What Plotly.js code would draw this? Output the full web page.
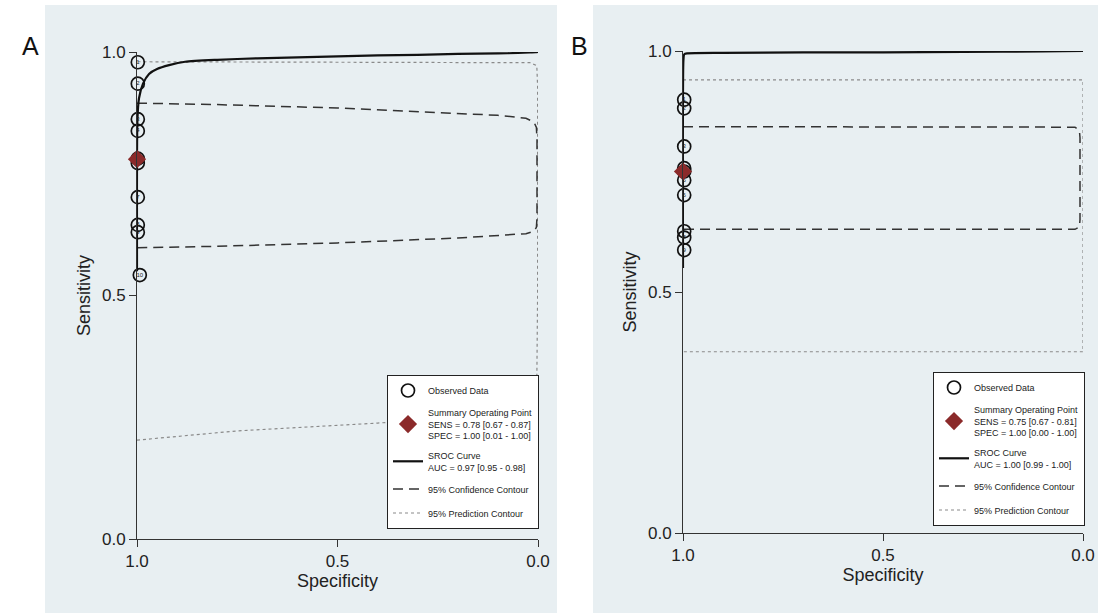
<!DOCTYPE html>
<html><head><meta charset="utf-8">
<script src="https://cdn.plot.ly/plotly-3.0.1.min.js"></script>
<style>html,body{margin:0;padding:0;background:#fff}#chart{width:1105px;height:613px}</style>
</head><body><div id="chart"></div><script>
// ---------- Panel A data ----------
const studyIdsA = ['1','2','3','4','5','6','7','8','9','10'];
const circleLabelsA = ['1','2','3','4','','6','7','8','9','10'];   // label of study 5 is hidden under the summary diamond
const obsSpecA = [0.998, 0.998, 0.998, 0.998, 0.998, 0.998, 0.998, 0.998, 0.998, 0.993];
const obsSensA = [0.979, 0.935, 0.862, 0.838, 0.781, 0.772, 0.702, 0.645, 0.630, 0.542];
const summarySpecA = [1.00];
const summarySensA = [0.78];
const srocSpecA = [1.0, 0.999, 0.995, 0.985, 0.97, 0.95, 0.92, 0.88, 0.8, 0.7, 0.6, 0.5, 0.4, 0.3, 0.2, 0.1, 0.05, 0.02, 0.005, 0.0];
const srocSensA = [0.55, 0.86, 0.905, 0.935, 0.955, 0.965, 0.973, 0.980, 0.984, 0.987, 0.989, 0.991, 0.993, 0.994, 0.996, 0.997, 0.998, 0.999, 0.9995, 1.0];
const confSpecA = [1.0, 0.8, 0.5, 0.3, 0.1, 0.03, 0.01, 0.004, 0.0025, 0.0025, 0.004, 0.01, 0.03, 0.2, 0.5, 0.8, 1.0];
const confSensA = [0.895, 0.892, 0.885, 0.878, 0.870, 0.864, 0.856, 0.845, 0.82, 0.66, 0.64, 0.632, 0.627, 0.618, 0.608, 0.601, 0.598];
const predSpecA = [1.0, 0.75, 0.4, 0.2, 0.05, 0.01, 0.003, 0.001, 0.001, 0.003, 0.02, 0.5, 1.0];
const predSensA = [0.203, 0.222, 0.238, 0.250, 0.265, 0.28, 0.32, 0.5, 0.93, 0.972, 0.978, 0.979, 0.980];
const legendA = {
  observed: 'Observed Data',
  summary: 'Summary Operating Point<br>SENS = 0.78 [0.67 - 0.87]<br>SPEC = 1.00 [0.01 - 1.00]',
  sroc: 'SROC Curve<br>AUC = 0.97 [0.95 - 0.98]',
  conf: '95% Confidence Contour',
  pred: '95% Prediction Contour'
};

// ---------- Panel B data ----------
const studyIdsB = ['1','2','3','4','5','6','7','8','9','10'];
const circleLabelsB = ['1','2','3','','5','6','7','8','9',''];   // labels hidden under the summary diamond
const obsSpecB = [0.997, 0.997, 0.997, 0.997, 0.997, 0.997, 0.997, 0.997, 0.997, 0.997];
const obsSensB = [0.899, 0.881, 0.802, 0.757, 0.732, 0.701, 0.626, 0.613, 0.587, 0.750];
const summarySpecB = [1.00];
const summarySensB = [0.75];
const srocSpecB = [1.0, 0.999, 0.997, 0.99, 0.9, 0.7, 0.5, 0.3, 0.1, 0.0];
const srocSensB = [0.55, 0.98, 0.993, 0.995, 0.996, 0.997, 0.997, 0.998, 0.999, 1.0];
const confSpecB = [1.0, 0.5, 0.1, 0.02, 0.009, 0.0075, 0.0075, 0.009, 0.02, 0.1, 0.5, 1.0];
const confSensB = [0.843, 0.843, 0.843, 0.842, 0.835, 0.82, 0.65, 0.635, 0.630, 0.630, 0.630, 0.630];
const predSpecB = [1.0, 0.5, 0.0, 0.0, 0.5, 1.0];
const predSensB = [0.940, 0.940, 0.940, 0.376, 0.376, 0.376];
const legendB = {
  observed: 'Observed Data',
  summary: 'Summary Operating Point<br>SENS = 0.75 [0.67 - 0.81]<br>SPEC = 1.00 [0.00 - 1.00]',
  sroc: 'SROC Curve<br>AUC = 1.00 [0.99 - 1.00]',
  conf: '95% Confidence Contour',
  pred: '95% Prediction Contour'
};

const tickVals = [0, 0.5, 1];
const tickText = ['0.0', '0.5', '1.0'];
const panelLabels = ['A', 'B'];

const FONT = 'Liberation Sans, Arial, sans-serif';
const DIAMOND = '#8b2a2a';

function panelTraces(xa, ya, leg, d) {
  return [
    {x: d.predSpec, y: d.predSens, xaxis: xa, yaxis: ya, type: 'scatter', mode: 'lines',
     line: {color: '#8a8a8a', width: 1.2, dash: 'dot'}, name: d.leg.pred, legend: leg,
     legendgroup: leg + 'p', legendrank: 5},
    {x: d.confSpec, y: d.confSens, xaxis: xa, yaxis: ya, type: 'scatter', mode: 'lines',
     line: {color: '#333', width: 1.5, dash: '10px,6px'}, name: d.leg.conf, legend: leg,
     legendgroup: leg + 'c', legendrank: 4},
    {x: d.srocSpec, y: d.srocSens, xaxis: xa, yaxis: ya, type: 'scatter', mode: 'lines',
     line: {color: '#111', width: 2.2, shape: 'spline', smoothing: 0.6}, name: d.leg.sroc, legend: leg,
     legendgroup: leg + 's', legendrank: 3},
    {x: d.obsSpec, y: d.obsSens, xaxis: xa, yaxis: ya, type: 'scatter', mode: 'markers',
     customdata: d.ids,
     marker: {symbol: 'circle', size: 13, color: 'rgba(255,255,255,0)', line: {color: '#111', width: 1.7}},
     cliponaxis: false, name: d.leg.observed, legend: leg, legendgroup: leg + 'o', legendrank: 1},
    {x: d.obsSpec, y: d.obsSens, xaxis: xa, yaxis: ya, type: 'scatter', mode: 'text',
     text: d.labels, textposition: 'middle center', textfont: {size: 6, color: '#222', family: FONT},
     cliponaxis: false, showlegend: false, hoverinfo: 'skip'},
    {x: d.sumSpec, y: d.sumSens, xaxis: xa, yaxis: ya, type: 'scatter', mode: 'markers',
     marker: {symbol: 'diamond', size: 14, color: DIAMOND, line: {width: 0}},
     cliponaxis: false, name: d.leg.summary, legend: leg, legendgroup: leg + 'm', legendrank: 2}
  ];
}

const data = [].concat(
  panelTraces('x', 'y', 'legend', {
    predSpec: predSpecA, predSens: predSensA, confSpec: confSpecA, confSens: confSensA,
    srocSpec: srocSpecA, srocSens: srocSensA, obsSpec: obsSpecA, obsSens: obsSensA,
    ids: studyIdsA, labels: circleLabelsA, sumSpec: summarySpecA, sumSens: summarySensA, leg: legendA}),
  panelTraces('x2', 'y2', 'legend2', {
    predSpec: predSpecB, predSens: predSensB, confSpec: confSpecB, confSens: confSensB,
    srocSpec: srocSpecB, srocSens: srocSensB, obsSpec: obsSpecB, obsSens: obsSensB,
    ids: studyIdsB, labels: circleLabelsB, sumSpec: summarySpecB, sumSens: summarySensB, leg: legendB})
);

function xAxis(domain, anchor) {
  return {domain: domain, anchor: anchor, range: [1, 0], tickvals: tickVals, ticktext: tickText,
    ticks: 'outside', ticklen: 7, tickwidth: 1, tickcolor: '#333', showgrid: false, zeroline: false,
    showline: true, linecolor: '#333', linewidth: 1, tickfont: {size: 17, color: '#222', family: FONT},
    title: {text: 'Specificity', font: {size: 18, color: '#222', family: FONT}, standoff: 3},
    automargin: false, fixedrange: true};
}
function yAxis(domain, anchor) {
  return {domain: domain, anchor: anchor, range: [0, 1], tickvals: tickVals, ticktext: tickText,
    ticks: 'outside', ticklen: 7, tickwidth: 1, tickcolor: '#333', showgrid: false, zeroline: false,
    showline: true, linecolor: '#333', linewidth: 1, tickfont: {size: 17, color: '#222', family: FONT},
    title: {text: 'Sensitivity', font: {size: 18, color: '#222', family: FONT}, standoff: 6},
    automargin: false, fixedrange: true};
}
function legendBox(x, y) {
  return {x: x, y: y, xanchor: 'left', yanchor: 'top', bgcolor: '#fff', bordercolor: '#222',
    borderwidth: 1, font: {size: 9, color: '#222', family: FONT}, traceorder: 'grouped',
    tracegroupgap: 5, itemwidth: 30};
}

const W = 1105, H = 613;
const layout = {
  width: W, height: H, margin: {l: 0, r: 0, t: 0, b: 0},
  paper_bgcolor: '#ffffff', plot_bgcolor: '#ffffff', showlegend: true,
  xaxis: xAxis([137 / W, 538 / W], 'y'),
  yaxis: yAxis([(H - 539) / H, (H - 52) / H], 'x'),
  xaxis2: xAxis([683 / W, 1083 / W], 'y2'),
  yaxis2: yAxis([(H - 533) / H, (H - 51) / H], 'x2'),
  legend: legendBox(387 / W, (H - 375) / H),
  legend2: legendBox(933 / W, (H - 372) / H),
  shapes: [
    {type: 'rect', xref: 'paper', yref: 'paper', x0: 45 / W, x1: 557 / W, y0: 0, y1: (H - 5) / H,
     fillcolor: '#e8eff2', line: {width: 0}, layer: 'below'},
    {type: 'rect', xref: 'paper', yref: 'paper', x0: 593 / W, x1: 1098 / W, y0: 0, y1: (H - 5) / H,
     fillcolor: '#e8eff2', line: {width: 0}, layer: 'below'}
  ],
  annotations: [
    {text: panelLabels[0], xref: 'paper', yref: 'paper', x: 20 / W, y: (H - 30) / H,
     showarrow: false, font: {size: 25, color: '#111', family: FONT}},
    {text: panelLabels[1], xref: 'paper', yref: 'paper', x: 579 / W, y: (H - 30) / H,
     showarrow: false, font: {size: 25, color: '#111', family: FONT}}
  ]
};

Plotly.newPlot('chart', data, layout, {displayModeBar: false, staticPlot: true});
</script></body></html>
